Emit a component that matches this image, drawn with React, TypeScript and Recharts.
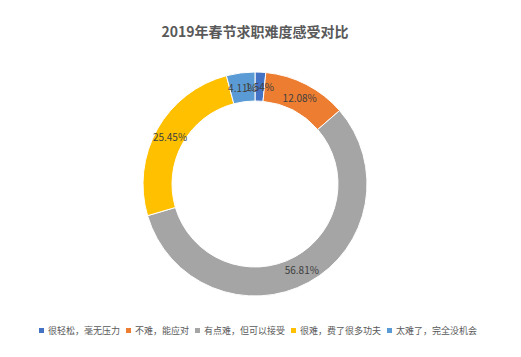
import React from 'react';
import { PieChart, Pie, Cell, Legend } from 'recharts';

const categories = ['很轻松，毫无压力', '不难，能应对', '有点难，但可以接受', '很难，费了很多功夫', '太难了，完全没机会'];
const values = [1.54, 12.08, 56.81, 25.45, 4.11];
const labels = ['1.54%', '12.08%', '56.81%', '25.45%', '4.11%'];
const colors = ['#4472C4', '#ED7D31', '#A5A5A5', '#FFC000', '#5B9BD5'];

const data = categories.map((name, i) => ({ name, value: values[i], label: labels[i] }));

const FONT = '"Noto Sans CJK SC", "Noto Sans", sans-serif';
const RADIAN = Math.PI / 180;

const renderLabel = (props: any) => {
  const { cx, cy, midAngle, innerRadius, outerRadius, index } = props;
  const r = (innerRadius + outerRadius) / 2;
  const x = cx + r * Math.cos(-midAngle * RADIAN);
  const y = cy + r * Math.sin(-midAngle * RADIAN);
  return (
    <text x={x} y={y} fill="#404040" fontSize={10} fontFamily={FONT} textAnchor="middle" dominantBaseline="central">
      {labels[index]}
    </text>
  );
};

const renderLegend = () => (
  <div style={{ display: 'flex', justifyContent: 'center', alignItems: 'center', fontFamily: FONT, fontSize: 9, color: '#595959', whiteSpace: 'nowrap' }}>
    {categories.map((c, i) => (
      <span key={c} style={{ display: 'inline-flex', alignItems: 'center', marginRight: i < categories.length - 1 ? 6 : 0 }}>
        <span style={{ display: 'inline-block', width: 5, height: 5, background: colors[i], marginRight: 4 }} />
        {c}
      </span>
    ))}
  </div>
);

export default function App() {
  return (
    <div style={{ position: 'absolute', left: 0, top: 0, width: 521, height: 357, background: '#fff' }}>
      <div style={{ position: 'absolute', left: 0, top: 21, width: 510, textAlign: 'center', fontFamily: FONT, fontSize: 14, fontWeight: 'bold', color: '#595959', lineHeight: '20px' }}>
        2019年春节求职难度感受对比
      </div>
      <PieChart width={521} height={357} margin={{ top: 0, right: 0, bottom: 0, left: 0 }}>
        <Pie
          data={data}
          dataKey="value"
          nameKey="name"
          cx={255}
          cy={184}
          innerRadius={83}
          outerRadius={112}
          startAngle={90}
          endAngle={-270}
          stroke="#fff"
          strokeWidth={1}
          label={renderLabel}
          labelLine={false}
          isAnimationActive={false}
        >
          {data.map((d, i) => (
            <Cell key={d.name} fill={colors[i]} />
          ))}
        </Pie>
        <Legend content={renderLegend} wrapperStyle={{ position: 'absolute', left: 0, top: 324, width: 516, height: 16 }} />
      </PieChart>
    </div>
  );
}
